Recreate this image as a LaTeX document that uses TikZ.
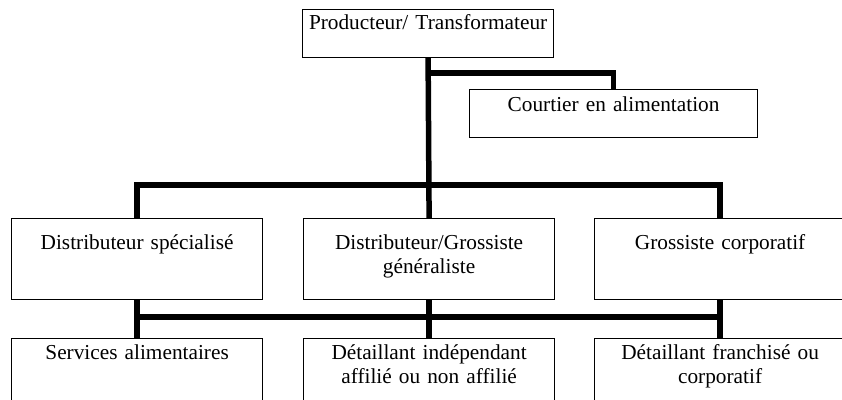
\documentclass[tikz,border=0pt]{standalone}
\usepackage{fontspec}
\setmainfont{Liberation Serif}
\usepackage{tikz}
\usetikzlibrary{positioning, calc}
\newcommand{\cajawidth}{251pt}
\tikzset{caja/.style={draw, line width=1.2pt, anchor=north west, inner sep=0pt, text width=\cajawidth, align=center, font=\fontsize{21.3}{24}\selectfont},
  filatop/.style={text height=20pt, text depth=28pt},
  filacourt/.style={text height=22pt, text depth=26pt},
  filamid/.style={text height=31pt, text depth=50pt},
  filabas/.style={text height=21pt, text depth=80pt},
  enlace/.style={line width=5.5pt, line join=miter}}

\begin{document}
\begin{tikzpicture}[x=1pt, y=-1pt]
			\useasboundingbox (0,0) rectangle (842,399);
			\clip (0,0) rectangle (842,399);

			\node [caja, filatop] (prod) at (302,9) {Producteur/ Transformateur};
			\node [caja, filacourt, text width=288pt] (court) at (469,89) {Courtier en alimentation};

			\node [caja, filamid] (distspec) at (11,218) {Distributeur spécialisé};
			\node [caja, filamid] (distgen) at (303,218) {Distributeur/Grossiste\\ généraliste};
			\node [caja, filamid] (grosscorp) at (594,218) {Grossiste corporatif};

			\node [caja, filabas] (servalim) at (11,338) {Services alimentaires};
			\node [caja, filabas] (detind) at (303,338) {Détaillant indépendant\\ affilié ou non affilié};
			\node [caja, filabas] (detfran) at (594,338) {Détaillant franchisé ou\\ corporatif};

			\coordinate (branche) at (0,73);
			\coordinate (busa) at (0,185);
			\coordinate (busb) at (0,317);

			\draw [enlace] (prod.south) -- (distgen.north);
			\draw [enlace] (prod.south |- branche) -- (branche -| court.north) -- (court.north);
			\draw [enlace] (distspec.north) -- (distspec.north |- busa) -- (grosscorp.north |- busa) -- (grosscorp.north);

			\draw [enlace] (distspec.south) -- (servalim.north);
			\draw [enlace] (distgen.south) -- (detind.north);
			\draw [enlace] (grosscorp.south) -- (detfran.north);
			\draw [enlace] (distspec.south |- busb) -- (grosscorp.south |- busb);
		\end{tikzpicture}
\end{document}
